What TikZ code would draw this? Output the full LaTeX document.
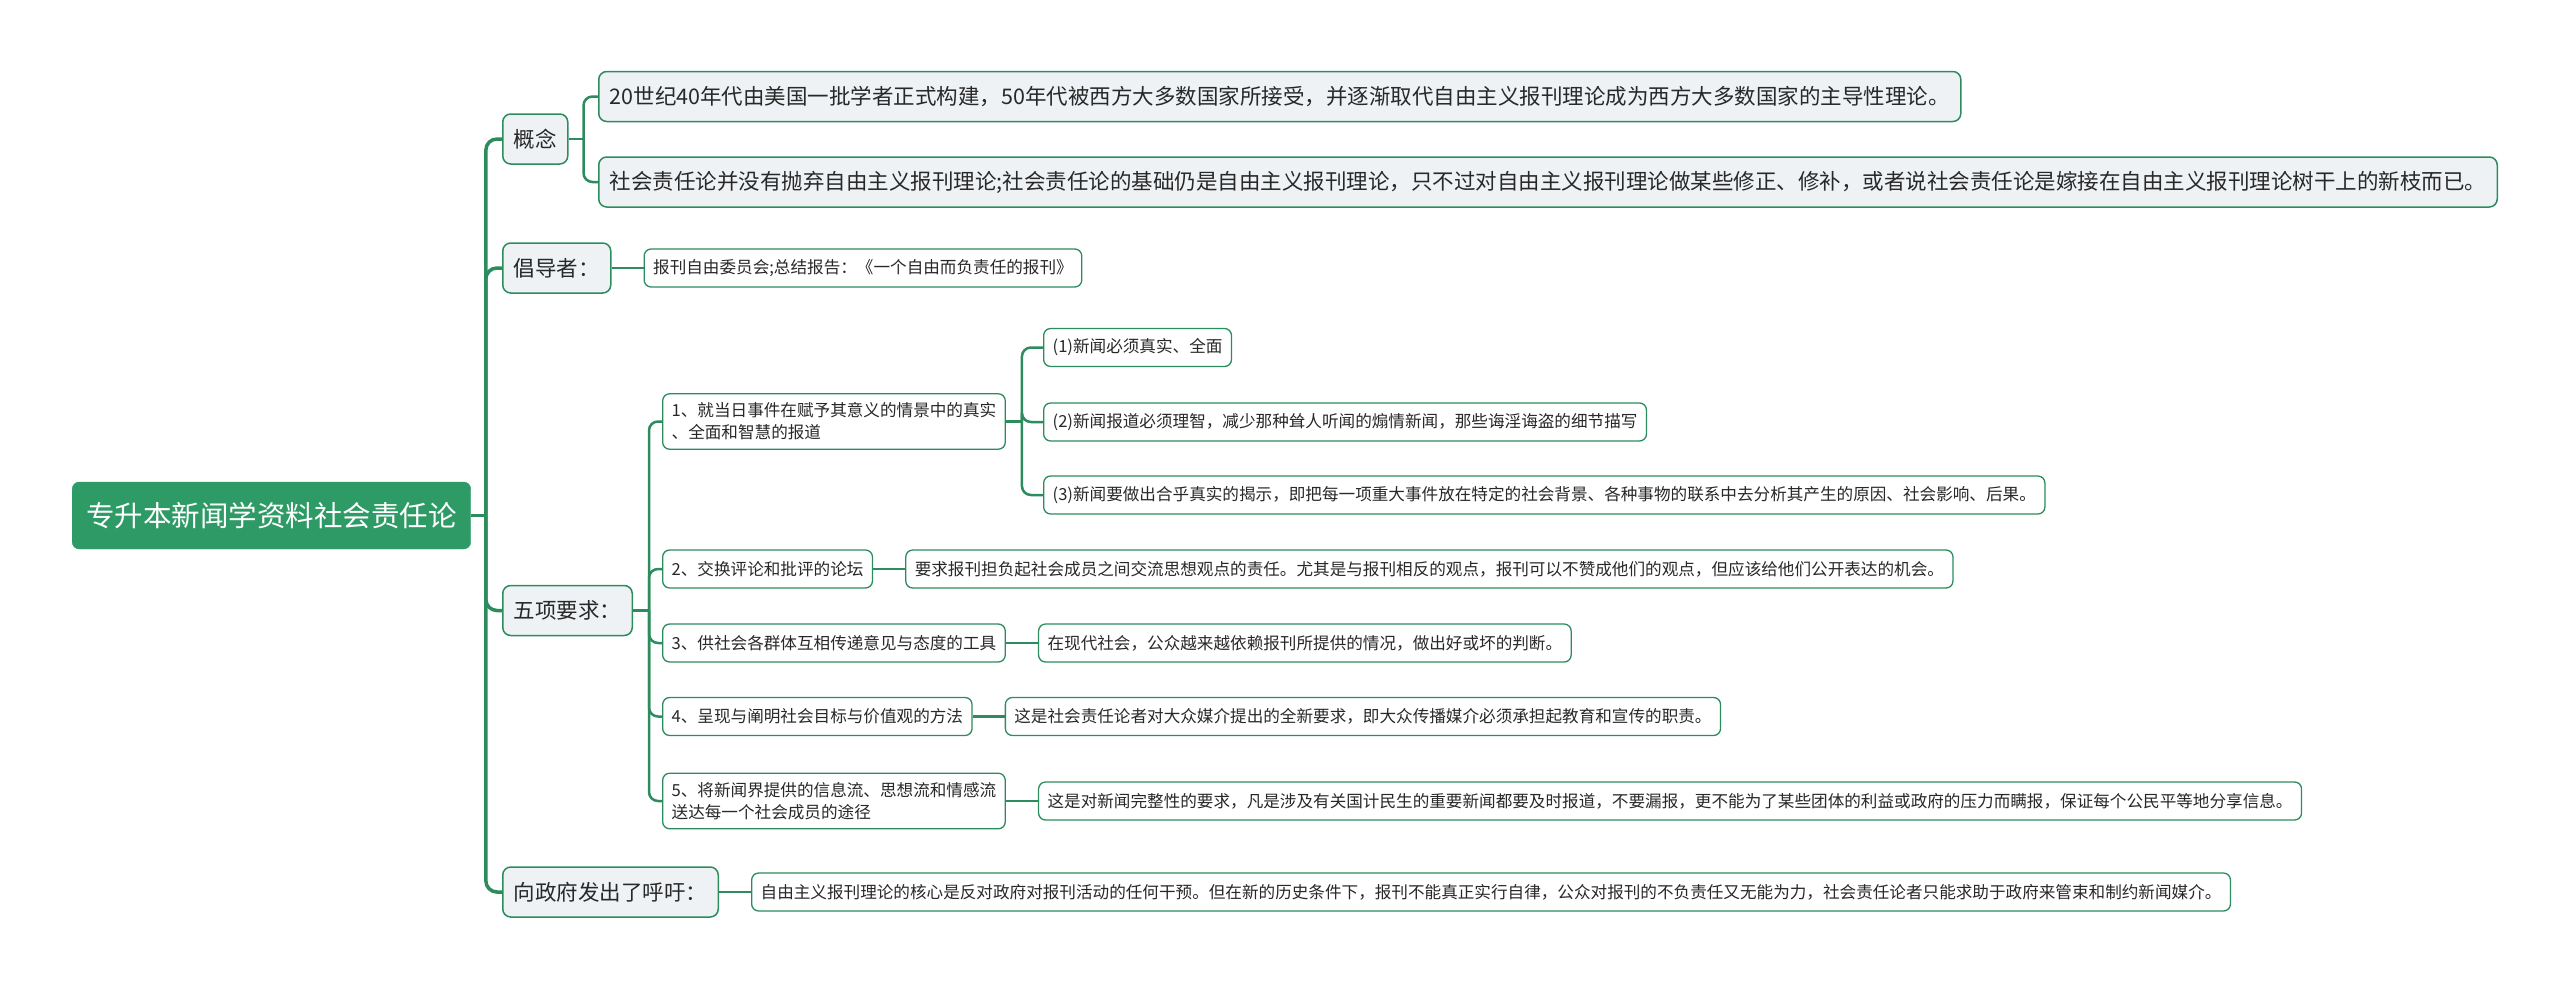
\documentclass[tikz,border=0pt]{standalone}
\usepackage{fontspec}
\newfontfamily\cjk{Noto Sans CJK SC}
\usetikzlibrary{positioning, calc}
\definecolor{mapgreen}{RGB}{44,140,94}
\definecolor{rootgreen}{RGB}{46,154,101}
\definecolor{boxgray}{RGB}{239,242,245}
\definecolor{inkgray}{RGB}{40,40,40}

\tikzset{
  rootbox/.style={draw=rootgreen, fill=rootgreen, text=white, rounded corners=7pt,
    font=\cjk\fontsize{28.5}{34}\selectfont, minimum height=67pt, inner xsep=14pt},
  topicbox/.style={draw=mapgreen, fill=boxgray, text=inkgray, line width=1.5pt,
    rounded corners=8pt, font=\cjk\fontsize{21.5}{26}\selectfont,
    minimum height=50pt, inner xsep=11pt, anchor=west},
  leafbox/.style={draw=mapgreen, fill=white, text=inkgray, line width=1.3pt,
    rounded corners=7pt, font=\cjk\fontsize{16.6}{22}\selectfont,
    minimum height=38pt, inner xsep=9pt, inner ysep=9pt, align=left, anchor=west},
  trunk/.style={draw=mapgreen, line width=3.5pt, rounded corners=11pt},
  link/.style={draw=mapgreen, line width=2.5pt, rounded corners=9pt},
}

\begin{document}
\begin{tikzpicture}[x=1pt, y=-1pt]
  \useasboundingbox (0,0) rectangle (2560,988);
  % root
  \node[rootbox, anchor=west] (root) at (72,515.5) {专升本新闻学资料社会责任论};
  % main topics
  \node[topicbox] (gainian) at (502,139) {概念};
  \node[topicbox] (changdao) at (502,268) {倡导者：};
  \node[topicbox] (wuxiang) at (502,610.5) {五项要求：};
  \node[topicbox] (huyu) at (502,892) {向政府发出了呼吁：};
  % concept
  \node[topicbox] (gn1) at (598,96.5) {20世纪40年代由美国一批学者正式构建，50年代被西方大多数国家所接受，并逐渐取代自由主义报刊理论成为西方大多数国家的主导性理论。};
  \node[topicbox] (gn2) at (598,182) {社会责任论并没有抛弃自由主义报刊理论;社会责任论的基础仍是自由主义报刊理论，只不过对自由主义报刊理论做某些修正、修补，或者说社会责任论是嫁接在自由主义报刊理论树干上的新枝而已。};
  \node[leafbox, right=32pt of changdao] (cd1) {报刊自由委员会;总结报告：《一个自由而负责任的报刊》};
  % five requirements
  \node[leafbox] (req1) at (662,421.5) {1、就当日事件在赋予其意义的情景中的真实\\、全面和智慧的报道};
  \node[leafbox] (req2) at (662,569) {2、交换评论和批评的论坛};
  \node[leafbox] (req3) at (662,643) {3、供社会各群体互相传递意见与态度的工具};
  \node[leafbox] (req4) at (662,716.5) {4、呈现与阐明社会目标与价值观的方法};
  \node[leafbox] (req5) at (662,801) {5、将新闻界提供的信息流、思想流和情感流\\送达每一个社会成员的途径};
  \node[leafbox] (sub1) at (1043,347.5) {(1)新闻必须真实、全面};
  \node[leafbox] (sub2) at (1043,422) {(2)新闻报道必须理智，减少那种耸人听闻的煽情新闻，那些诲淫诲盗的细节描写};
  \node[leafbox] (sub3) at (1043,495) {(3)新闻要做出合乎真实的揭示，即把每一项重大事件放在特定的社会背景、各种事物的联系中去分析其产生的原因、社会影响、后果。};
  \node[leafbox, right=32pt of req2] (det2) {要求报刊担负起社会成员之间交流思想观点的责任。尤其是与报刊相反的观点，报刊可以不赞成他们的观点，但应该给他们公开表达的机会。};
  \node[leafbox, right=32pt of req3] (det3) {在现代社会，公众越来越依赖报刊所提供的情况，做出好或坏的判断。};
  \node[leafbox, right=32pt of req4] (det4) {这是社会责任论者对大众媒介提出的全新要求，即大众传播媒介必须承担起教育和宣传的职责。};
  \node[leafbox, right=32pt of req5] (det5) {这是对新闻完整性的要求，凡是涉及有关国计民生的重要新闻都要及时报道，不要漏报，更不能为了某些团体的利益或政府的压力而瞒报，保证每个公民平等地分享信息。};
  \node[leafbox, right=32pt of huyu] (hy1) {自由主义报刊理论的核心是反对政府对报刊活动的任何干预。但在新的历史条件下，报刊不能真正实行自律，公众对报刊的不负责任又无能为力，社会责任论者只能求助于政府来管束和制约新闻媒介。};
  % branches
  \coordinate (rj) at ([xshift=15pt]root.east);
  \draw[trunk] (root.east) -- (rj);
  \foreach \t in {gainian,changdao,wuxiang,huyu}
    \draw[trunk] (rj) |- (\t.west);
  \coordinate (gj) at ([xshift=15pt]gainian.east);
  \draw[link] (gainian.east) -- (gj);
  \foreach \t in {gn1,gn2}
    \draw[link] (gj) |- (\t.west);
  \coordinate (wj) at ([xshift=16pt]wuxiang.east);
  \draw[link] (wuxiang.east) -- (wj);
  \foreach \t in {req1,req2,req3,req4,req5}
    \draw[link] (wj) |- (\t.west);
  \coordinate (sj) at ([xshift=16pt]req1.east);
  \draw[link] (req1.east) -- (sj);
  \foreach \t in {sub1,sub2,sub3}
    \draw[link] (sj) |- (\t.west);
  % straight links
  \draw[link] (changdao) -- (cd1);
  \draw[link] (req2) -- (det2);
  \draw[link] (req3) -- (det3);
  \draw[link] (req4) -- (det4);
  \draw[link] (req5) -- (det5);
  \draw[link] (huyu) -- (hy1);
\end{tikzpicture}
\end{document}
